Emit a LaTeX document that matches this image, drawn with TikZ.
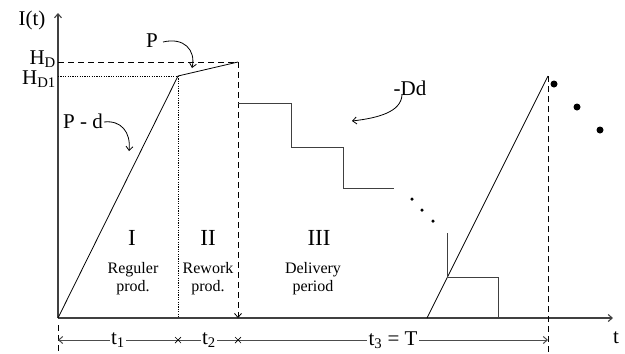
\documentclass[tikz,border=0pt]{standalone}
\usepackage{fontspec}
\setmainfont{Liberation Serif}
\usetikzlibrary{arrows.meta}
\begin{document}
\begin{tikzpicture}[x=1pt,y=-1pt,
  axis/.style={draw=black!75, line width=1.1pt},
  stair/.style={draw=black!75, line width=1pt},
  ramp/.style={draw=black, line width=0.8pt},
  guide/.style={draw=black, line width=0.8pt, dash pattern=on 6pt off 4pt},
  dotguide/.style={draw=black, line width=0.7pt, dash pattern=on 1.2pt off 1.2pt},
  tip/.style={-{Straight Barb[length=4pt,width=7pt]}},
  dimline/.style={draw=black!70, line width=1pt},
  biglbl/.style={font=\fontsize{21}{23}\selectfont, inner sep=0pt},
  smalllbl/.style={font=\fontsize{16}{18}\selectfont, inner sep=0pt, align=center},
  dimlbl/.style={font=\fontsize{21}{23}\selectfont, fill=white, inner sep=1.5pt},
  bigdot/.style={circle, fill=black, inner sep=0pt, minimum size=7pt},
  smalldot/.style={circle, fill=black, inner sep=0pt, minimum size=3.5pt}]
\useasboundingbox (0,0) rectangle (625,354);

% key points
\coordinate (O) at (58,318);
\coordinate (ytop) at (58,13);
\coordinate (xend) at (613,318);
\coordinate (A) at (178,76);
\coordinate (B) at (238,62);
\coordinate (HD) at (58,62);
\coordinate (HD1) at (58,76);
\coordinate (Abot) at (178,318);
\coordinate (Bbot) at (238,318);
\coordinate (R0) at (427,318);
\coordinate (R1) at (548,76);
\coordinate (Rlow) at (548,354);

% axes
\draw[axis, tip] (O) -- (ytop);
\draw[axis, tip] (O) -- (xend);

% level guides
\draw[guide] (HD) -- (B);
\draw[dotguide] (HD1) -- (A);
\draw[dotguide] (A) -- (Abot);
\draw[guide, tip] (B) -- (Bbot);
\draw[guide] (R1) -- (Rlow);

% production ramps
\draw[ramp] (O) -- (A) -- (B);
\draw[ramp] (R0) -- (R1);

% delivery staircase
\draw[stair] (238,103) -- (291,103) -- (291,147) -- (343,147) -- (343,188) -- (394,188);
\draw[stair] (447,233) -- (447,277) -- (498,277) -- (498,318) -- (548,318);

% ellipsis dots
\node[smalldot] (d1) at (412,199) {};
\node[smalldot] (d2) at (422,210) {};
\node[smalldot] (d3) at (433,221) {};
\node[bigdot] (e1) at (554,84) {};
\node[bigdot] (e2) at (577,107) {};
\node[bigdot] (e3) at (600,130) {};

% axis labels
\node[biglbl] (It) at (32,20) {I(t)};
\node[biglbl] (tl) at (616,338) {t};
\node[biglbl, anchor=east] (lHD) at (56,59) {H\textsubscript{D}};
\node[biglbl, anchor=east] (lHD1) at (56,79) {H\textsubscript{D1}};

% rate labels with pointers
\node[biglbl] (lP) at (152,41) {P};
\draw[ramp, tip] (163,42) .. controls (184,37) and (196,50) .. (192,68);
\node[biglbl] (lPd) at (83,121) {P - d};
\draw[ramp, tip] (104,122) .. controls (121,120) and (131,132) .. (129,151);
\node[biglbl] (lDd) at (410,88) {-Dd};
\draw[ramp, tip] (402,95) .. controls (401,112) and (378,118) .. (352,121);

% phase labels
\node[font=\fontsize{23}{25}\selectfont, inner sep=0pt] (ph1) at (132,238) {I};
\node[smalllbl] (ph1t) at (133,279) {Reguler\\prod.};
\node[font=\fontsize{23}{25}\selectfont, inner sep=0pt] (ph2) at (208,238) {II};
\node[smalllbl] (ph2t) at (208,279) {Rework\\prod.};
\node[font=\fontsize{23}{25}\selectfont, inner sep=0pt] (ph3) at (319,238) {III};
\node[smalllbl] (ph3t) at (313,279) {Delivery\\period};

% time dimensions
\coordinate (m0) at (58,340);
\coordinate (m1) at (178,340);
\coordinate (m2) at (238,340);
\coordinate (m3) at (548,340);
\draw[guide] (58,325) -- (58,354);
\draw[dimline, tip] (m1) -- (m0);
\draw[dimline] (m1) -- (m2);
\draw[dimline, tip] (m2) -- (m3);
\foreach \c in {m1,m2}
  \draw[black, line width=0.7pt] ([shift={(-3,-3)}]\c) -- ([shift={(3,3)}]\c)
                                 ([shift={(-3,3)}]\c) -- ([shift={(3,-3)}]\c);
\node[dimlbl] (lt1) at (118,340) {t\textsubscript{1}};
\node[dimlbl] (lt2) at (209,340) {t\textsubscript{2}};
\node[dimlbl] (lt3) at (393,340) {t\textsubscript{3} = T};
\end{tikzpicture}
\end{document}
